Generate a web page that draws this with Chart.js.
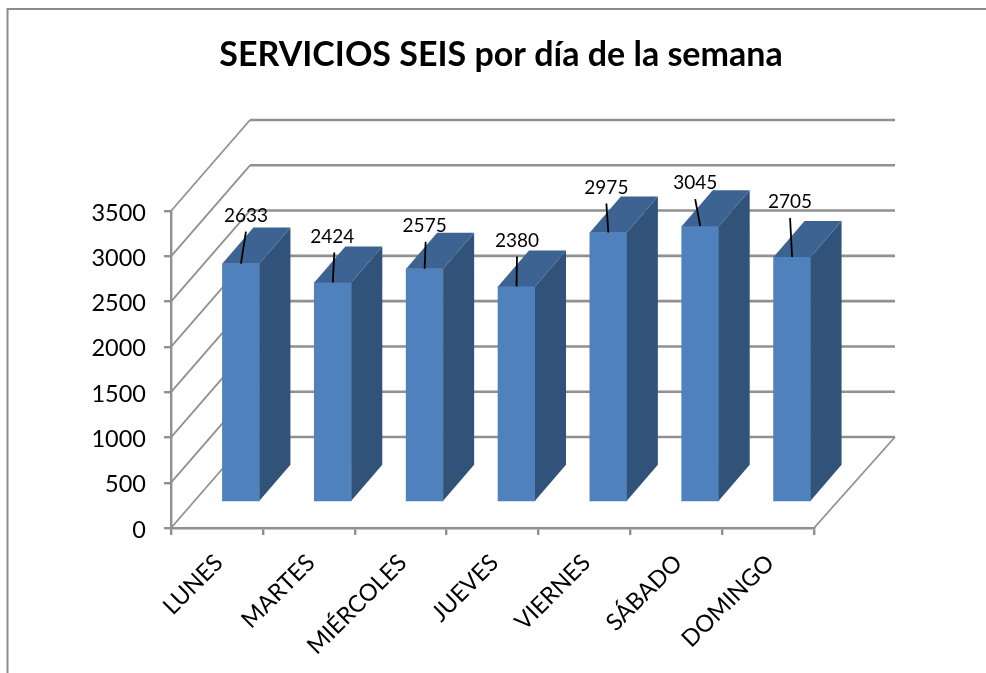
<!DOCTYPE html>
<html>
<head>
<meta charset="utf-8">
<style>html,body{margin:0;padding:0;background:#fff}canvas{display:block}</style>
<script src="https://cdn.jsdelivr.net/npm/chart.js@4"></script>
</head>
<body>
<div style="width:986px;height:673px"><canvas id="c" width="986" height="673"></canvas></div>
<script>
const categories = ["LUNES","MARTES","MIÉRCOLES","JUEVES","VIERNES","SÁBADO","DOMINGO"];
const servicios = [2633,2424,2575,2380,2975,3045,2705];
const yTicks = [0,500,1000,1500,2000,2500,3000,3500];
const chartTitle = "SERVICIOS SEIS por día de la semana";
// leader-line tip offsets from the top centre of each bar's front face
const leaderDx = [5,1.5,1,0.5,-2,-5,-2];
const leaderDy = [-32,-30,-27,-30,-29,-27,-39];
const labelDx = [0,-2,-1,0,0,0,0];

const GRID = "#909090";
const WALL_DX_L = 79, WALL_DX_R = 81, WALL_DY = -91; // box depth
const BAR_SHIFT_X = 24, BAR_SHIFT_Y = -26;           // bars stand mid-way into the box
const BAR_DX = 31, BAR_DY = -36;                     // bar depth
const FRONT = "#4f81bd", SIDE = "#325379", TOP = "#3c6391";

function line(ctx,x1,y1,x2,y2){ctx.beginPath();ctx.moveTo(x1,y1);ctx.lineTo(x2,y2);ctx.stroke();}
function nudgeLabels(scale,dx,dy){
  const orig = scale.drawLabels;
  scale.drawLabels = function(a){
    const ctx = this.ctx;
    ctx.save();ctx.translate(dx,dy);orig.call(this,a);ctx.restore();
  };
}

const box3d = {
  id:"box3d",
  afterLayout(chart){
    nudgeLabels(chart.scales.y,0,2);
    nudgeLabels(chart.scales.x,2,0);
  },
  beforeDraw(chart){
    const ctx = chart.ctx;
    ctx.save();
    ctx.fillStyle="#fff";ctx.fillRect(0,0,chart.width,chart.height);
    ctx.strokeStyle="#8c8c8c";ctx.lineWidth=2;
    ctx.beginPath();ctx.moveTo(7.5,chart.height);ctx.lineTo(7.5,9);ctx.lineTo(chart.width,9);ctx.stroke();
    ctx.restore();
  },
  beforeDatasetsDraw(chart){
    const ctx = chart.ctx, y = chart.scales.y, a = chart.chartArea;
    ctx.save();
    ctx.strokeStyle=GRID;
    yTicks.forEach(v=>{
      const py = y.getPixelForValue(v);
      ctx.lineWidth=1.8;
      line(ctx,a.left,py,a.left+WALL_DX_L,py+WALL_DY);
      ctx.lineWidth=2.6;
      line(ctx,a.left+WALL_DX_L,py+WALL_DY,a.right+WALL_DX_R,py+WALL_DY);
    });
    ctx.lineWidth=1.8;
    line(ctx,a.right,a.bottom,a.right+WALL_DX_R,a.bottom+WALL_DY);
    ctx.restore();
  },
  beforeDatasetDraw(chart){
    chart.ctx.save();
    chart.ctx.translate(BAR_SHIFT_X,BAR_SHIFT_Y);
  },
  afterDatasetDraw(chart){
    const ctx = chart.ctx;
    chart.getDatasetMeta(0).data.forEach(b=>{
      const l=b.x-b.width/2, r=b.x+b.width/2;
      ctx.fillStyle=SIDE;
      ctx.beginPath();ctx.moveTo(r,b.y);ctx.lineTo(r+BAR_DX,b.y+BAR_DY);ctx.lineTo(r+BAR_DX,b.base+BAR_DY);ctx.lineTo(r,b.base);ctx.closePath();ctx.fill();
      ctx.fillStyle=TOP;
      ctx.beginPath();ctx.moveTo(l,b.y);ctx.lineTo(l+BAR_DX,b.y+BAR_DY);ctx.lineTo(r+BAR_DX,b.y+BAR_DY);ctx.lineTo(r,b.y);ctx.closePath();ctx.fill();
    });
    ctx.restore();
  },
  afterDatasetsDraw(chart){
    const ctx = chart.ctx;
    ctx.save();
    ctx.font='19px Lato';ctx.textAlign="center";ctx.textBaseline="middle";
    chart.getDatasetMeta(0).data.forEach((b,i)=>{
      const x=b.x+BAR_SHIFT_X, yy=b.y+BAR_SHIFT_Y;
      const tx=x+leaderDx[i], ty=yy+leaderDy[i];
      ctx.strokeStyle="#000";ctx.lineWidth=1.8;
      line(ctx,x,yy,tx,ty);
      ctx.fillStyle="#000";
      ctx.fillText(String(servicios[i]),tx+labelDx[i],ty-16);
    });
    ctx.restore();
  }
};

new Chart(document.getElementById("c"),{
  type:"bar",
  data:{labels:categories,datasets:[{data:servicios,backgroundColor:FRONT,barThickness:37,borderWidth:0,clip:false}]},
  options:{
    responsive:false,animation:false,
    layout:{padding:{left:16,right:0,top:0,bottom:0}},
    plugins:{
      legend:{display:false},tooltip:{enabled:false},
      title:{display:true,text:chartTitle,color:"#000",align:"center",
        font:{family:"Lato",size:34,weight:"bold",lineHeight:1.2},
        padding:{top:34.6,bottom:135.6}}
    },
    scales:{
      x:{
        grid:{drawOnChartArea:false,color:GRID,lineWidth:2.4,tickLength:7},
        border:{color:GRID,width:2.4},
        ticks:{color:"#000",font:{family:"Lato",size:23.5},minRotation:45,maxRotation:45,autoSkip:false,padding:14},
        afterFit(s){s.height=145;}
      },
      y:{
        min:0,max:3500,
        grid:{drawOnChartArea:false,color:GRID,lineWidth:2.4,tickLength:7},
        border:{color:GRID,width:2.4},
        ticks:{color:"#000",font:{family:"Lato",size:23.5},stepSize:500,padding:18,
          callback:(v)=>yTicks.includes(v)?String(v):""},
        afterFit(s){s.width=155;}
      },
      y2:{
        position:"right",
        grid:{display:false},border:{display:false},ticks:{display:false},
        afterFit(s){s.width=172;}
      }
    }
  },
  plugins:[box3d]
});
</script>
</body>
</html>
